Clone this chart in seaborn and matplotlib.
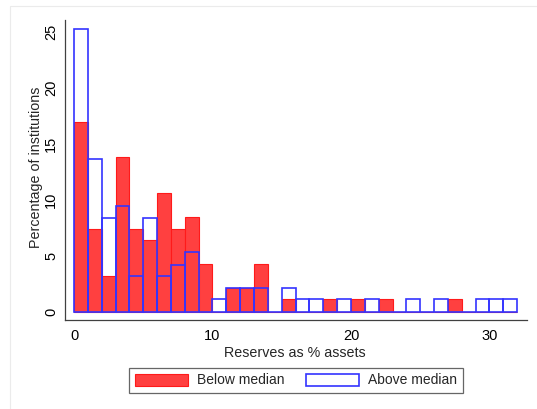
import numpy as np
import pandas as pd
import matplotlib
matplotlib.use("Agg")
import matplotlib.pyplot as plt
from matplotlib.patches import Patch, Rectangle
import seaborn as sns

# Bin edges (reserves as % of assets, width 1) and bar heights in percent
bin_left = list(range(32))
below_pct = [17.0, 7.4, 3.2, 13.8, 7.4, 6.4, 10.6, 7.4, 8.5, 4.3,
             0.0, 2.1, 2.1, 4.3, 0.0, 1.1, 0.0, 0.0, 1.1, 0.0,
             1.1, 0.0, 1.1, 0.0, 0.0, 0.0, 0.0, 1.1, 0.0, 0.0,
             0.0, 0.0]
above_pct = [25.3, 13.7, 8.4, 9.5, 3.2, 8.4, 3.2, 4.2, 5.3, 0.0,
             1.1, 2.1, 2.1, 2.1, 0.0, 2.1, 1.1, 1.1, 0.0, 1.1,
             0.0, 1.1, 0.0, 0.0, 1.1, 0.0, 1.1, 0.0, 0.0, 1.1,
             1.1, 1.1]
series_names = ["Below median", "Above median"]
x_ticks = [0, 10, 20, 30]
y_ticks = [0, 5, 10, 15, 20, 25]

sns.set_style("white")
plt.rcParams["font.family"] = ["Liberation Sans", "DejaVu Sans"]
plt.rcParams["font.size"] = 10

df = pd.DataFrame({
    "mid": [b + 0.5 for b in bin_left] * 2,
    "pct": below_pct + above_pct,
    "group": [series_names[0]] * len(bin_left) + [series_names[1]] * len(bin_left),
})
edges = bin_left + [bin_left[-1] + 1]

fig = plt.figure(figsize=(5.37, 4.09), dpi=100)
fig.patch.set_facecolor("white")
fig.patches.append(Rectangle((10 / 537, -0.05), 1.2, 1 - 6 / 409 + 0.05,
                             transform=fig.transFigure, fill=False,
                             edgecolor="#ebebeb", linewidth=0.8))

ax = fig.add_axes([65 / 537, 89 / 409, 462 / 537, 300 / 409])

red_fill = "#ff4040"
red_edge = "#ff1a1a"
blue_edge = "#3434ff"

sns.histplot(data=df[df.group == series_names[0]], x="mid", weights="pct",
             bins=edges, stat="count", element="bars", fill=True,
             color=red_fill, alpha=1.0, edgecolor=red_edge, linewidth=0.8,
             ax=ax)
sns.histplot(data=df[df.group == series_names[1]], x="mid", weights="pct",
             bins=edges, stat="count", element="bars", fill=False,
             color=blue_edge, linewidth=1.2, ax=ax)

ax.set_xlim(-0.65, 32.71)
ax.set_ylim(-0.74, 26.1)
ax.set_xticks(x_ticks)
ax.set_yticks(y_ticks)
ax.set_yticklabels([str(v) for v in y_ticks], rotation=90, va="center")

for side in ["top", "right"]:
    ax.spines[side].set_visible(False)
for side in ["left", "bottom"]:
    ax.spines[side].set_color("#404040")
    ax.spines[side].set_linewidth(0.9)
ax.tick_params(axis="both", direction="out", length=3.8, width=0.8,
               color="#404040", labelsize=10.5, labelcolor="black")
ax.tick_params(axis="x", pad=3)
ax.tick_params(axis="y", pad=1)
ax.grid(False)

ax.set_xlabel("Reserves as % assets", fontsize=10.3)
ax.set_ylabel("Percentage of institutions", fontsize=10.3)
ax.xaxis.set_label_coords(0.4985, -0.086)
ax.yaxis.set_label_coords(-0.047, 0.51)

handles = [
    Patch(facecolor=red_fill, edgecolor=red_edge, linewidth=0.8),
    Patch(facecolor="white", edgecolor=blue_edge, linewidth=1.2),
]
leg = fig.legend(handles, series_names, loc="center",
                 bbox_to_anchor=(296 / 537, 1 - 380.5 / 409), ncol=2,
                 frameon=True, fancybox=False, fontsize=10,
                 handlelength=3.8, handleheight=1.0, handletextpad=0.65,
                 columnspacing=1.6, borderpad=0.4, borderaxespad=0)
leg.get_frame().set_edgecolor("#404040")
leg.get_frame().set_linewidth(0.9)

fig.savefig("out.png", dpi=100, facecolor="white")
